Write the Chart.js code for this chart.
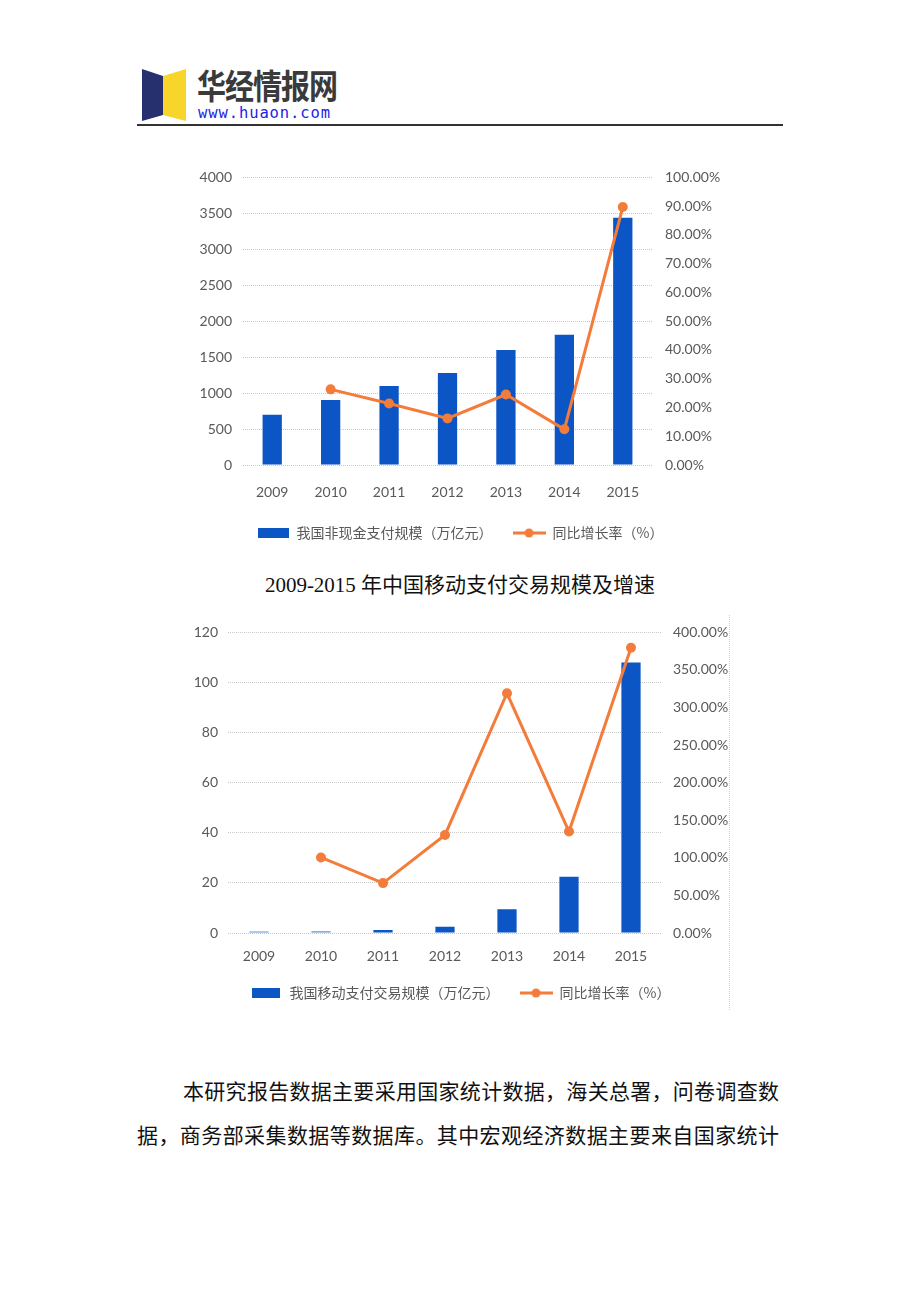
<!DOCTYPE html>
<html>
<head>
<meta charset="utf-8">
<script src="https://cdn.jsdelivr.net/npm/chart.js@4/dist/chart.umd.min.js"></script>
<style>
  html, body { margin: 0; padding: 0; background: #fff; }
  body { width: 920px; height: 1302px; position: relative; overflow: hidden; }
  .abs { position: absolute; }
  #brand { left: 197px; top: 62px; font-family: "Noto Sans CJK SC", sans-serif; font-weight: 700; font-size: 29px; color: #3a3a3a; transform: scaleY(1.18); transform-origin: top left; line-height: 36px; letter-spacing: -1px; }
  #url { left: 198px; top: 104px; font-family: "DejaVu Sans Mono", monospace; font-size: 15.5px; color: #2323e6; letter-spacing: 0.9px; line-height: 18px; }
  #rule { left: 137px; top: 124px; width: 646px; height: 2px; background: #333; }
  #title { left: 160px; width: 600px; top: 572px; text-align: center; font-family: "Liberation Serif", "Noto Sans CJK SC", serif; font-size: 21px; color: #111; line-height: 26px; }
  .para { left: 137px; width: 642px; font-family: "Liberation Serif", "Noto Sans CJK SC", serif; font-size: 21px; color: #111; line-height: 28px; text-align: justify; text-align-last: justify; white-space: nowrap; }
  #vline { left: 729px; top: 615px; width: 0; height: 395px; border-left: 1px dotted #d0d0d0; }
</style>
</head>
<body>
<svg class="abs" style="left:140px;top:67px" width="48" height="56" viewBox="0 0 48 56">
  <polygon points="2,2 23,9 23,48 2,54" fill="#27306e"/>
  <polygon points="23,9 46,2 46,54 23,48" fill="#f7d52a"/>
</svg>
<div id="brand" class="abs">华经情报网</div>
<div id="url" class="abs">www.huaon.com</div>
<div id="rule" class="abs"></div>

<div class="abs" style="left:180px;top:156px;width:560px;height:400px;">
  <canvas id="c1" width="560" height="400"></canvas>
</div>

<div id="title" class="abs">2009-2015 年中国移动支付交易规模及增速</div>

<div class="abs" style="left:180px;top:613px;width:560px;height:400px;">
  <canvas id="c2" width="560" height="400"></canvas>
</div>
<div id="vline" class="abs"></div>

<div class="abs para" style="top:1078px;padding-left:46px;width:596px;">本研究报告数据主要采用国家统计数据，海关总署，问卷调查数</div>
<div class="abs para" style="top:1122px;">据，商务部采集数据等数据库。其中宏观经济数据主要来自国家统计</div>

<script>
// ---------- data ----------
const years = ['2009', '2010', '2011', '2012', '2013', '2014', '2015'];

// Chart 1: non-cash payment scale (万亿元) and YoY growth (%)
const nonCashScale = [700, 905, 1100, 1280, 1600, 1810, 3440];
const nonCashGrowth = [null, 26.3, 21.4, 16.2, 24.5, 12.4, 89.7];
const leftTicks1 = ['0', '500', '1000', '1500', '2000', '2500', '3000', '3500', '4000'];
const rightTicks1 = ['0.00%', '10.00%', '20.00%', '30.00%', '40.00%', '50.00%', '60.00%', '70.00%', '80.00%', '90.00%', '100.00%'];

// Chart 2: mobile payment transaction scale (万亿元) and YoY growth (%)
const mobileScale = [0.6, 0.7, 1.2, 2.5, 9.5, 22.5, 108];
const mobileGrowth = [null, 100.5, 66.4, 130.5, 319, 135, 379.5];
const leftTicks2 = ['0', '20', '40', '60', '80', '100', '120'];
const rightTicks2 = ['0.00%', '50.00%', '100.00%', '150.00%', '200.00%', '250.00%', '300.00%', '350.00%', '400.00%'];

const legendBar1 = '我国非现金支付规模（万亿元）';
const legendBar2 = '我国移动支付交易规模（万亿元）';
const legendLine = '同比增长率（%）';

// ---------- styles ----------
const BLUE = '#0b55c4';
const BLUE_LIGHT = '#5f93d8';
const ORANGE = '#f47c3b';
const TICK_COLOR = '#595959';
const GRID_COLOR = '#c9c9c9';
const tickFont = { family: "'Liberation Sans Narrow', Lato, sans-serif", size: 14 };
const legendFont = { family: "'Noto Sans CJK SC', sans-serif", size: 14 };

function boxImg(w, h, color) {
  const c = document.createElement('canvas');
  c.width = w; c.height = h;
  const x = c.getContext('2d');
  x.fillStyle = color; x.fillRect(0, 0, w, h);
  return c;
}
function lineImg(w, h, color) {
  const c = document.createElement('canvas');
  c.width = w; c.height = h;
  const x = c.getContext('2d');
  x.strokeStyle = color; x.lineWidth = 3;
  x.beginPath(); x.moveTo(0, h / 2); x.lineTo(w, h / 2); x.stroke();
  x.fillStyle = color;
  x.beginPath(); x.arc(w / 2, h / 2, 4.5, 0, Math.PI * 2); x.fill();
  return c;
}

function build(id, cfg) {
  const barImg = boxImg(cfg.boxW, 10, BLUE);
  const lnImg = lineImg(33, 10, ORANGE);
  return new Chart(document.getElementById(id), {
    data: {
      labels: years,
      datasets: [
        {
          type: 'line', label: legendLine, data: cfg.growth, yAxisID: 'y1', order: 0,
          borderColor: ORANGE, backgroundColor: ORANGE, borderWidth: 3,
          pointRadius: 5, pointHoverRadius: 5, pointBackgroundColor: ORANGE, pointBorderWidth: 0,
          tension: 0
        },
        {
          type: 'bar', label: cfg.barLabel, data: cfg.scale, yAxisID: 'y', order: 1,
          backgroundColor: cfg.barColors, borderWidth: 0,
          barPercentage: cfg.barPct, categoryPercentage: 1
        }
      ]
    },
    options: {
      responsive: false, animation: false, devicePixelRatio: 1,
      layout: { padding: { top: 0, bottom: cfg.padBottom, left: 0, right: 0 } },
      plugins: {
        tooltip: { enabled: false },
        legend: {
          position: 'bottom',
          labels: {
            usePointStyle: true, pointStyleWidth: 33, padding: cfg.legendPad,
            color: TICK_COLOR, font: legendFont,
            generateLabels: () => [
              { text: cfg.barLabel, pointStyle: barImg, fillStyle: BLUE, strokeStyle: BLUE, lineWidth: 0, hidden: false, datasetIndex: 1, fontColor: TICK_COLOR },
              { text: legendLine, pointStyle: lnImg, fillStyle: ORANGE, strokeStyle: ORANGE, lineWidth: 0, hidden: false, datasetIndex: 0, fontColor: TICK_COLOR }
            ]
          }
        }
      },
      scales: {
        x: {
          offset: true,
          grid: { display: false, drawTicks: false },
          border: { display: false },
          ticks: { color: TICK_COLOR, font: tickFont, padding: cfg.xPad, maxRotation: 0 },
          afterFit: (s) => { s.height = cfg.xH; }
        },
        y: {
          position: 'left', min: 0, max: cfg.leftMax,
          grid: { color: GRID_COLOR, drawTicks: false, lineWidth: 1 },
          border: { display: false, dash: [1, 1] },
          ticks: { stepSize: cfg.leftStep, color: TICK_COLOR, font: tickFont, padding: cfg.lPad,
                   callback: (v, i) => cfg.leftTicks[i] },
          afterFit: (s) => { s.width = cfg.lW; }
        },
        y1: {
          position: 'right', min: 0, max: cfg.rightMax,
          grid: { display: false, drawTicks: false },
          border: { display: false },
          ticks: { stepSize: cfg.rightStep, color: TICK_COLOR, font: tickFont, padding: cfg.rPad,
                   callback: (v, i) => cfg.rightTicks[i] },
          afterFit: (s) => { s.width = cfg.rW; }
        }
      }
    }
  });
}

build('c1', {
  scale: nonCashScale, growth: nonCashGrowth, barLabel: legendBar1,
  barColors: BLUE, barPct: 0.33, boxW: 31,
  leftMax: 4000, leftStep: 500, leftTicks: leftTicks1,
  rightMax: 100, rightStep: 10, rightTicks: rightTicks1,
  padBottom: 6, legendPad: 20,
  xPad: 19, xH: 41, lPad: 11, lW: 63, rPad: 13, rW: 88
});

build('c2', {
  scale: mobileScale, growth: mobileGrowth, barLabel: legendBar2,
  barColors: [BLUE_LIGHT, BLUE_LIGHT, BLUE, BLUE, BLUE, BLUE, BLUE], barPct: 0.31, boxW: 28,
  leftMax: 120, leftStep: 20, leftTicks: leftTicks2,
  rightMax: 400, rightStep: 50, rightTicks: rightTicks2,
  padBottom: 3, legendPad: 20,
  xPad: 15, xH: 33, lPad: 10, lW: 48, rPad: 11, rW: 78
});
</script>
</body>
</html>
